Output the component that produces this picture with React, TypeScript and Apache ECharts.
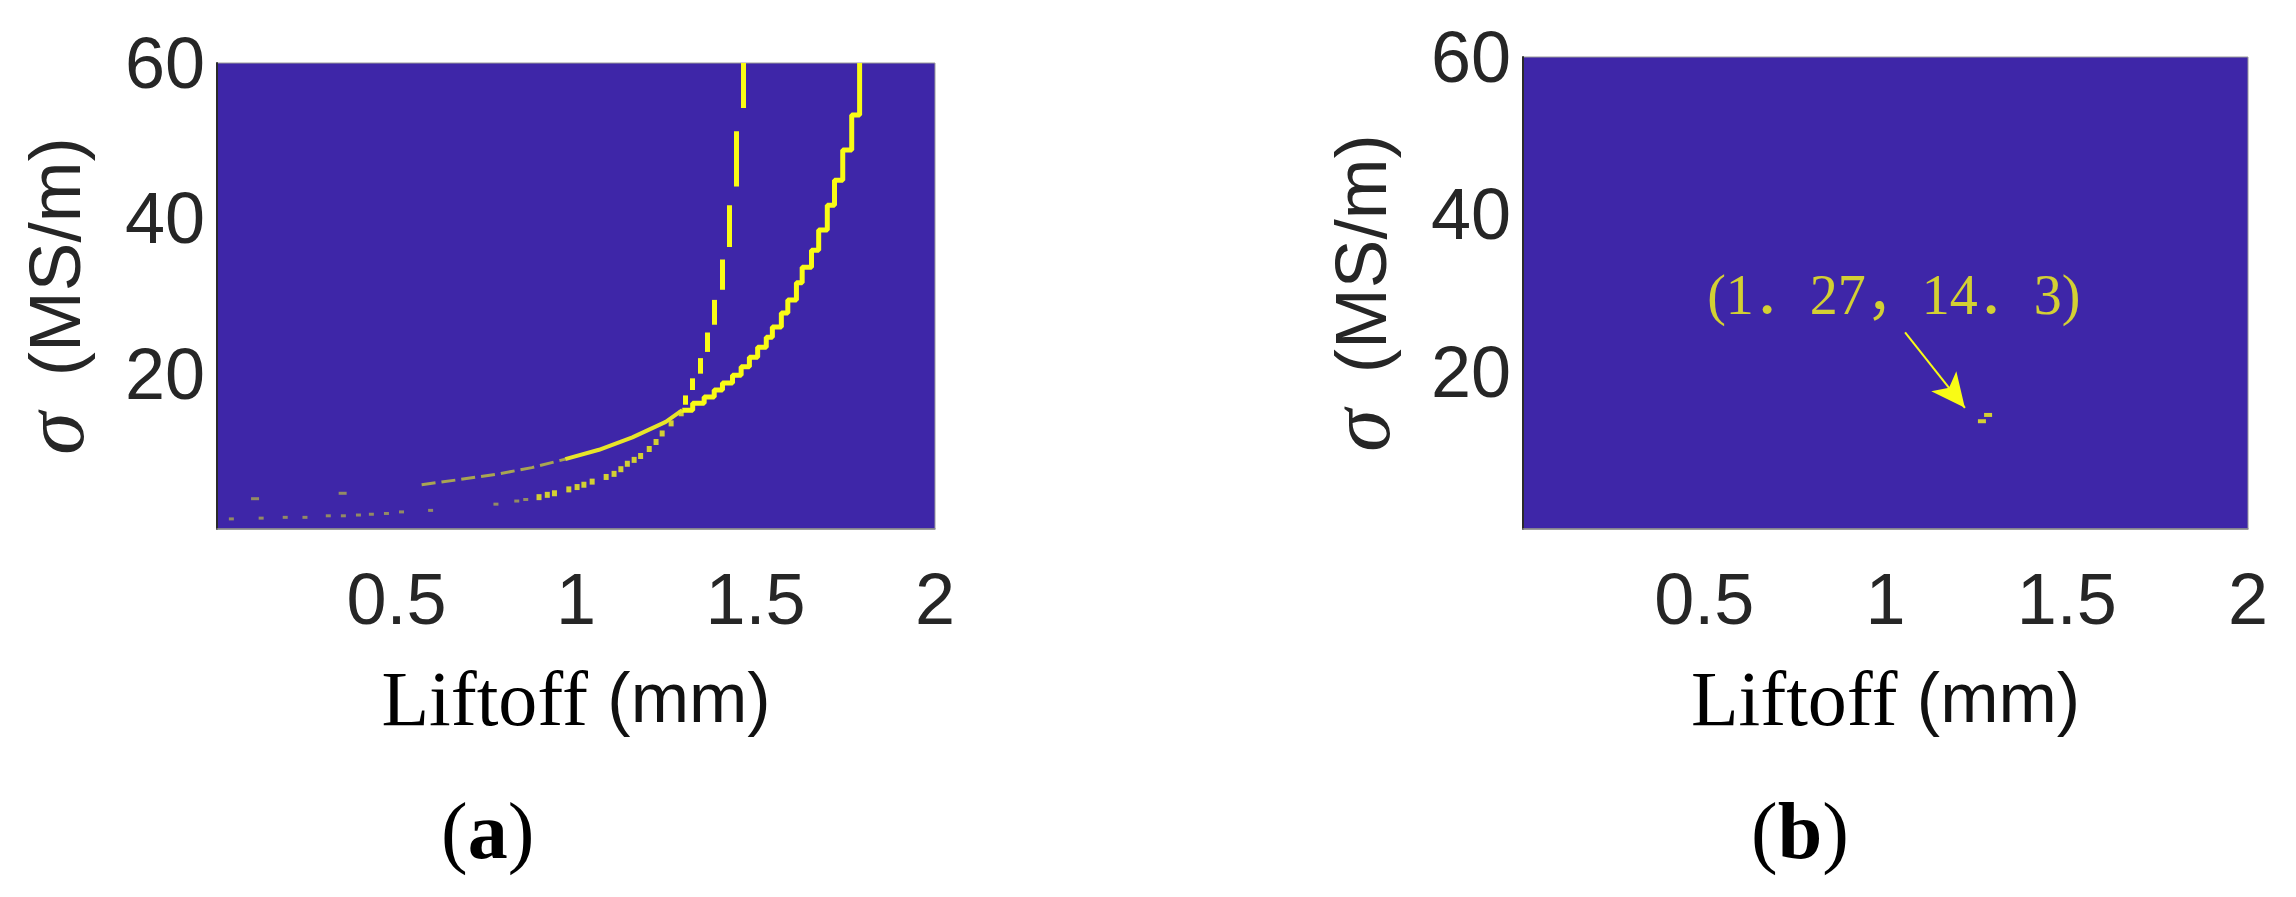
import React, { useEffect, useRef } from "react";
import * as echarts from "echarts";

// ---- axes ----
const X_MIN = 0;
const X_MAX = 2;
const X_STEP = 0.5;
const Y_MIN = 0;
const Y_MAX = 60;
const Y_STEP = 20;

// ---- panel (a): the two yellow loci of the inversion map ----
// curve A (flatter one): faint isolated pixels, thin dim part, bright part, staircase part
const curveAFaint: number[][] = [[0.106, 3.9], [0.35, 4.6]];
const curveALow: number[][] = [[0.57, 5.7], [0.665, 6.3], [0.785, 7.1], [0.877, 7.9], [0.97, 9.0]];
const curveAMid: number[][] = [[0.97, 9.0], [1.064, 10.2], [1.157, 11.8], [1.25, 13.8], [1.296, 15.3]];
const curveAHigh: number[][] = [
  [1.296, 15.3], [1.325, 16.2], [1.357, 17.0], [1.385, 17.9], [1.408, 18.8], [1.436, 19.8],
  [1.46, 20.9], [1.483, 22.1], [1.506, 23.4], [1.53, 24.7], [1.547, 26.0], [1.572, 27.8],
  [1.59, 29.5], [1.614, 31.7], [1.63, 33.7], [1.656, 35.9], [1.676, 38.5], [1.70, 41.7],
  [1.72, 44.9], [1.743, 48.8], [1.768, 53.3], [1.79, 57.0], [1.79, 60.0],
];
// curve B (steeper one): dotted lower part, then vertical dashes
const curveBDotsFaint: number[][] = [
  [0.04, 1.3], [0.123, 1.4], [0.19, 1.5], [0.245, 1.5], [0.31, 1.7], [0.352, 1.7],
  [0.394, 1.8], [0.43, 1.9], [0.472, 2.0], [0.514, 2.2], [0.595, 2.4], [0.777, 3.2],
  [0.835, 3.6], [0.86, 3.8],
];
const curveBDots: number[][] = [
  [0.897, 4.1], [0.92, 4.4], [0.94, 4.6], [0.98, 5.1], [1.003, 5.4], [1.022, 5.7],
  [1.045, 6.1], [1.084, 6.7], [1.106, 7.1], [1.125, 7.7], [1.143, 8.4], [1.162, 8.9],
  [1.18, 9.4], [1.204, 10.3], [1.223, 11.2], [1.24, 12.3], [1.265, 13.6], [1.293, 14.9],
];
// dashes: [x, sigma from, sigma to]
const curveBDashes: number[][] = [
  [1.304, 16.0, 17.2], [1.325, 17.9, 19.4], [1.345, 20.0, 22.0], [1.366, 22.8, 25.3],
  [1.386, 26.3, 29.5], [1.407, 30.8, 34.7], [1.426, 36.3, 41.7], [1.446, 44.1, 51.2],
  [1.467, 54.2, 60.0],
];

// ---- panel (b): single solution ----
const solutionPixels: number[][] = [[1.283, 14.5], [1.266, 13.7]];
const arrowFrom: number[] = [1.054, 25.0];
const arrowTo: number[] = [1.219, 15.4];
const labelAt: number[] = [0.508, 29.7];
const labelText = "(1．27，14．3)";

const BG = "#3E26A8";
const YEL = "#F9FB15";
const DIM = "#A9A552";
const INK = "#262626";
const NBSP = "\u00a0";
const THIN = "\u2009";

const SANS = "'Liberation Sans', Arial, Helvetica, sans-serif";
const SERIF = "'Liberation Serif', 'Times New Roman', serif";

function xAxis(gridIndex: number) {
  return {
    type: "value",
    gridIndex,
    min: X_MIN,
    max: X_MAX,
    interval: X_STEP,
    splitLine: { show: false },
    axisTick: { show: false },
    axisLine: { show: true, lineStyle: { color: "#8c8c8c", width: 1.5 } },
    axisLabel: {
      fontFamily: SANS,
      fontSize: 72,
      lineHeight: 72,
      color: INK,
      margin: 34,
      formatter: (v: number) => (v === X_MIN ? "" : String(v)),
    },
    name: "{t|Liftoff}{u|" + NBSP + "(mm)}",
    nameLocation: "middle",
    nameGap: 130,
    nameTextStyle: {
      rich: {
        t: { fontFamily: SERIF, fontSize: 78, color: "#000" },
        u: { fontFamily: SANS, fontSize: 70, color: "#111" },
      },
    },
  };
}

function yAxis(gridIndex: number) {
  return {
    type: "value",
    gridIndex,
    min: Y_MIN,
    max: Y_MAX,
    interval: Y_STEP,
    splitLine: { show: false },
    axisTick: { show: false },
    axisLine: { show: true, lineStyle: { color: "#2a2a2a", width: 2 } },
    axisLabel: {
      fontFamily: SANS,
      fontSize: 72,
      lineHeight: 72,
      color: INK,
      margin: 12,
      formatter: (v: number) => (v === Y_MIN ? "" : String(v)),
    },
    name: "{s|σ" + NBSP + "}{u|" + THIN + "(MS/m)}",
    nameLocation: "middle",
    nameRotate: 90,
    nameGap: 120,
    nameTextStyle: {
      rich: {
        s: { fontFamily: SERIF, fontStyle: "italic", fontSize: 86, color: INK },
        u: { fontFamily: SANS, fontSize: 73, color: INK },
      },
    },
  };
}

export default function App() {
  const ref = useRef<HTMLDivElement>(null);

  useEffect(() => {
    if (!ref.current) return;
    const chart = echarts.init(ref.current, undefined, { renderer: "svg" });

    const dashSegments = curveBDashes.map((d) => ({ coords: [[d[0], d[1]], [d[0], d[2]]] }));

    const option = {
      animation: false,
      backgroundColor: "#ffffff",
      grid: [
        { left: 217, top: 63, width: 718, height: 466, show: true, backgroundColor: BG, borderColor: "#9a9a9a", borderWidth: 1 },
        { left: 1523, top: 57, width: 725, height: 472, show: true, backgroundColor: BG, borderColor: "#9a9a9a", borderWidth: 1 },
      ],
      xAxis: [xAxis(0), xAxis(1)],
      yAxis: [yAxis(0), yAxis(1)],
      series: [
        {
          type: "scatter", xAxisIndex: 0, yAxisIndex: 0, data: curveAFaint,
          symbol: "rect", symbolSize: [8, 3], itemStyle: { color: DIM }, silent: true,
        },
        {
          type: "line", xAxisIndex: 0, yAxisIndex: 0, data: curveALow, showSymbol: false,
          lineStyle: { color: DIM, width: 3, type: [14, 6] }, silent: true,
        },
        {
          type: "line", xAxisIndex: 0, yAxisIndex: 0, data: curveAMid, showSymbol: false,
          lineStyle: { color: "#E8E52A", width: 4 }, silent: true,
        },
        {
          type: "line", xAxisIndex: 0, yAxisIndex: 0, data: curveAHigh, showSymbol: false, step: "end",
          lineStyle: { color: YEL, width: 5 }, silent: true,
        },
        {
          type: "scatter", xAxisIndex: 0, yAxisIndex: 0, data: curveBDotsFaint,
          symbol: "rect", symbolSize: [5, 3], itemStyle: { color: DIM }, silent: true,
        },
        {
          type: "scatter", xAxisIndex: 0, yAxisIndex: 0, data: curveBDots,
          symbol: "rect", symbolSize: [5, 6], itemStyle: { color: YEL }, silent: true,
        },
        {
          type: "lines", coordinateSystem: "cartesian2d", xAxisIndex: 0, yAxisIndex: 0,
          data: dashSegments, lineStyle: { color: YEL, width: 5, cap: "butt", opacity: 1 }, silent: true,
        },
        // panel (b)
        {
          type: "scatter", xAxisIndex: 1, yAxisIndex: 1, data: solutionPixels,
          symbol: "rect", symbolSize: [8, 4], itemStyle: { color: YEL }, silent: true,
          markLine: {
            silent: true,
            symbol: ["none", "arrow"],
            symbolSize: [24, 34],
            label: { show: false },
            lineStyle: { color: YEL, width: 2, type: "solid" },
            data: [[{ coord: arrowFrom }, { coord: arrowTo }]],
          },
        },
        {
          type: "scatter", xAxisIndex: 1, yAxisIndex: 1, data: [labelAt],
          symbolSize: 0, silent: true,
          label: {
            show: true,
            position: [0, 0],
            align: "left",
            verticalAlign: "middle",
            formatter: () => labelText,
            fontFamily: SERIF + ", 'Noto Sans CJK SC'",
            fontSize: 56,
            color: YEL,
          },
        },
      ],
      graphic: [
        {
          type: "text", left: 486 - 45, top: 836 - 45,
          style: {
            text: "{p|(}{b|a}{p|)}",
            rich: {
              p: { fontFamily: SERIF, fontSize: 80, color: "#000" },
              b: { fontFamily: SERIF, fontSize: 80, fontWeight: "bold", color: "#000" },
            },
          },
        },
        {
          type: "text", left: 1798 - 47, top: 836 - 45,
          style: {
            text: "{p|(}{b|b}{p|)}",
            rich: {
              p: { fontFamily: SERIF, fontSize: 80, color: "#000" },
              b: { fontFamily: SERIF, fontSize: 80, fontWeight: "bold", color: "#000" },
            },
          },
        },
      ],
    };

    chart.setOption(option as any);
    return () => chart.dispose();
  }, []);

  return (
    <div
      ref={ref}
      style={{ position: "fixed", left: 0, top: 0, width: 2296, height: 897, background: "#fff" }}
    />
  );
}
